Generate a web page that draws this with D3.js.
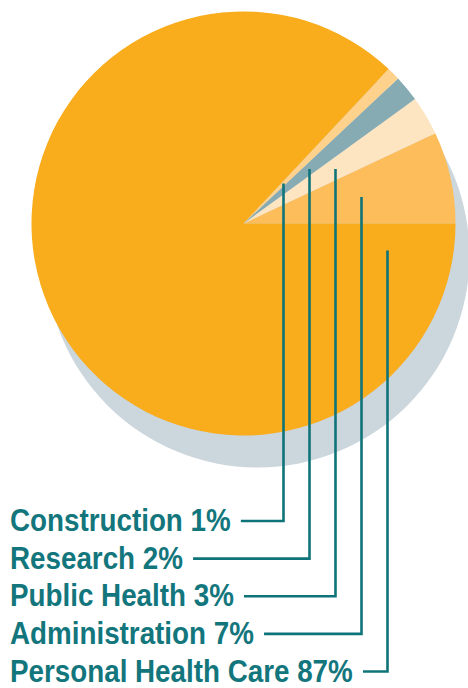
<!DOCTYPE html>
<html><head><meta charset="utf-8">
<script src="https://cdn.jsdelivr.net/npm/d3@7"></script>
<style>html,body{margin:0;padding:0;background:#fff;}svg{display:block;}</style>
</head><body>
<script>
// Data (in pie order, counterclockwise from 3 o'clock)
const categories = ["Administration", "Public Health", "Research", "Construction", "Personal Health Care"];
const values = [7, 3, 2, 1, 87];
const colors = ["#FDBD5B", "#FEE5C1", "#87ABB3", "#FED18C", "#F9AC1C"];
// Label order (top to bottom)
const labelOrder = ["Construction", "Research", "Public Health", "Administration", "Personal Health Care"];

const W = 468, H = 688;
const cx = 243.5, cy = 223.5, R = 212;
const shadowDx = 14, shadowDy = 32;
const teal = "#12767C";

const svg = d3.select("body").append("svg").attr("width", W).attr("height", H);

const data = categories.map((c, i) => ({ cat: c, value: values[i], color: colors[i] }));
const pie = d3.pie().sort(null).value(d => d.value)
  .startAngle(Math.PI / 2).endAngle(Math.PI / 2 - 2 * Math.PI);
const arcs = pie(data);
const arc = d3.arc().innerRadius(0).outerRadius(R);

// shadow
svg.append("circle").attr("cx", cx + shadowDx).attr("cy", cy + shadowDy).attr("r", R).attr("fill", "#CBD6DD");

const g = svg.append("g").attr("transform", `translate(${cx},${cy})`);
g.selectAll("path").data(arcs).join("path")
  .attr("d", arc).attr("fill", d => d.data.color);

// leader lines & labels
const xScale = d3.scalePoint().domain(labelOrder).range([283.5, 387.5]);
const yScale = d3.scalePoint().domain(labelOrder).range([531, 681.5]);
const fontSize = 31.5;
const longestTarget = 343; // px width of the longest label

const labels = svg.append("g");
const items = labelOrder.map(cat => {
  const i = categories.indexOf(cat);
  const txt = labels.append("text")
    .attr("font-family", "'Liberation Sans',Arial,sans-serif")
    .attr("font-weight", "bold")
    .attr("font-size", fontSize)
    .attr("fill", teal)
    .text(`${cat} ${values[i]}%`);
  return { cat, txt, w: txt.node().getComputedTextLength() };
});
const sx = longestTarget / d3.max(items, d => d.w);

items.forEach(({ cat, txt, w }) => {
  const a = arcs.find(d => d.data.cat === cat);
  const x = xScale(cat);
  const base = yScale(cat);
  const ly = base - 10;
  txt.attr("transform", `translate(10,${base}) scale(${sx},1)`);
  const mid = (a.startAngle + a.endAngle) / 2;
  const sinm = Math.sin(mid), cosm = Math.cos(mid);
  let top;
  if (sinm > 0.05) {
    top = cy - ((x - cx) / sinm) * cosm;
  } else {
    top = cy + 27;
  }
  labels.append("path")
    .attr("d", `M${x},${top}V${ly}H${10 + w * sx + 10}`)
    .attr("fill", "none").attr("stroke", "#0F7479").attr("stroke-width", 2.6);
});
</script>
</body></html>
